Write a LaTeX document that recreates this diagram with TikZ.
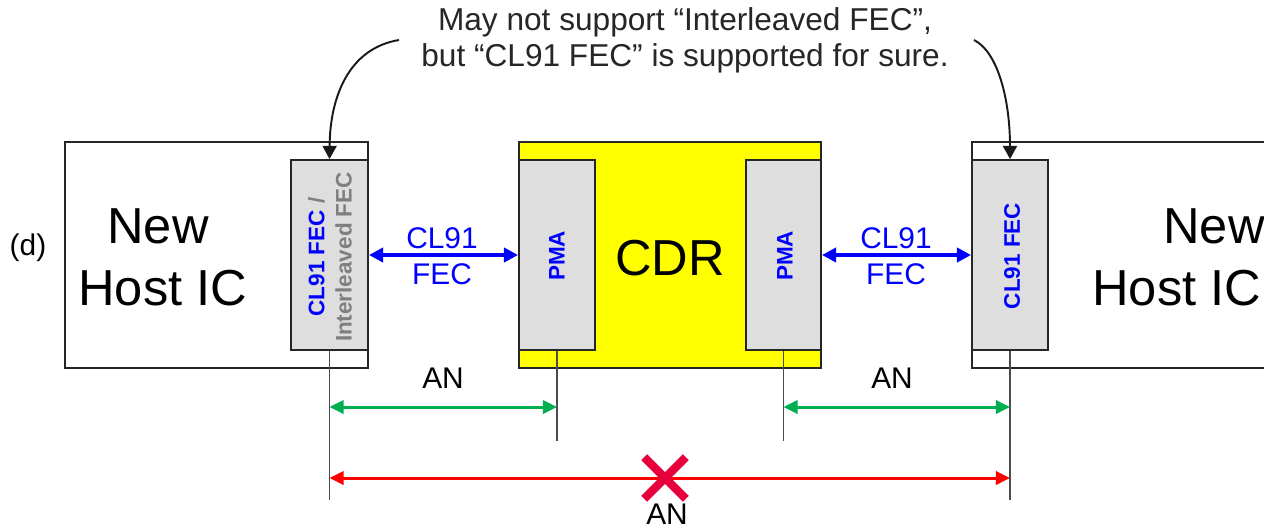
\documentclass[tikz,border=0pt]{standalone}
\usepackage{fontspec}
\setmainfont{Liberation Sans}
\usetikzlibrary{arrows.meta}
\definecolor{fecgray}{HTML}{DEDEDE}
\definecolor{txtgray}{HTML}{7F7F7F}
\definecolor{anblue}{HTML}{0000FF}
\definecolor{angreen}{HTML}{00B050}
\definecolor{anred}{HTML}{FF0000}
\definecolor{xred}{HTML}{E6003C}
\definecolor{cdryellow}{RGB}{255,255,0}
\tikzset{
  box/.style={draw=black!85, line width=1.1pt, rectangle, inner sep=0pt, minimum height=4.52cm},
  fecbox/.style={draw=black!85, line width=1.1pt, rectangle, inner sep=0pt, fill=fecgray, minimum height=3.8cm},
  bigtxt/.style={font=\fontsize{28.8}{34}\selectfont, inner sep=0pt},
  vtxt/.style={font=\fontsize{12.8}{15.5}\selectfont\bfseries, rotate=90, align=center, inner sep=0pt},
  midtxt/.style={font=\fontsize{17}{20.4}\selectfont, inner sep=0pt, align=center},
  bluearr/.style={anblue, line width=2pt, {Triangle[length=8pt,width=8pt]}-{Triangle[length=8pt,width=8pt]}},
  greenarr/.style={angreen, line width=1.7pt, {Triangle[length=8pt,width=7.5pt]}-{Triangle[length=8pt,width=7.5pt]}},
  redarr/.style={anred, line width=1.7pt, {Triangle[length=8pt,width=7.5pt]}-{Triangle[length=8pt,width=7.5pt]}},
  thin/.style={black!70, line width=0.6pt},
  callout/.style={black!90, line width=1.1pt, -{Triangle[length=7.5pt,width=8pt]}},
  xstroke/.style={xred, line width=4.8pt}
}
\begin{document}
\begin{tikzpicture}[x=0.02cm,y=-0.02cm]
\useasboundingbox (0,0) rectangle (1264,529);
\clip (0,0) rectangle (1264,529);
% host boxes and CDR
\node[box, minimum width=6.06cm] (hostL) at (216.5,255) {};
\node[box, minimum width=6.04cm, fill=cdryellow] (cdr) at (670,255) {};
\node[box, minimum width=6.36cm] (hostR) at (1131,255) {};
% inner blocks
\node[fecbox, minimum width=1.54cm] (fecL) at (329.5,255) {};
\node[fecbox, minimum width=1.52cm] (pmaL) at (557,255) {};
\node[fecbox, minimum width=1.5cm] (pmaR) at (783.5,255) {};
\node[fecbox, minimum width=1.52cm] (fecR) at (1010,255) {};
% rotated labels
\node[vtxt] (fecLt) at (330,257) {\textcolor{anblue}{CL91 FEC} \textcolor{txtgray}{/}\\\textcolor{txtgray}{Interleaved FEC}};
\node[vtxt, anblue] (pmaLt) at (557,256) {PMA};
\node[vtxt, anblue] (pmaRt) at (785,256) {PMA};
\node[vtxt, anblue] (fecRt) at (1012,256) {CL91 FEC};
% big texts
\node[font=\fontsize{17}{20}\selectfont, inner sep=0pt] (dlab) at (28,248) {(d)};
\node[bigtxt, anchor=west] (newL) at (107,226) {New};
\node[bigtxt, anchor=west] (hostLt) at (78,288) {Host IC};
\node[bigtxt] (cdrt) at (670,258) {CDR};
\node[bigtxt, anchor=west] (newR) at (1163,226) {New};
\node[bigtxt, anchor=west] (hostRt) at (1092,288) {Host IC};
% blue links
\draw[bluearr] (fecL.east) -- (pmaL.west);
\draw[bluearr] (pmaR.east) -- (fecR.west);
\node[midtxt, anblue] (blL) at (442,256) {CL91\\FEC};
\node[midtxt, anblue] (blR) at (896,256) {CL91\\FEC};
% vertical reference lines
\coordinate (vL) at (329.5,500);
\coordinate (vPL) at (557,441);
\coordinate (vPR) at (783.5,441);
\coordinate (vR) at (1010,500);
\draw[thin] (fecL.south) -- (vL);
\draw[thin] (pmaL.south) -- (vPL);
\draw[thin] (pmaR.south) -- (vPR);
\draw[thin] (fecR.south) -- (vR);
% AN arrows
\coordinate (yG) at (0,407);
\coordinate (yR) at (0,478);
\draw[greenarr] (vL |- yG) -- (vPL |- yG);
\draw[greenarr] (vPR |- yG) -- (vR |- yG);
\draw[redarr] (vL |- yR) -- (vR |- yR);
\node[midtxt] (anL) at (443,378) {AN};
\node[midtxt] (anR) at (892,378) {AN};
\node[midtxt] (anB) at (667,514) {AN};
% red X
\node[minimum size=0.82cm, inner sep=0pt] (xmark) at (665,478) {};
\draw[xstroke] (xmark.north west) -- (xmark.south east);
\draw[xstroke] (xmark.north east) -- (xmark.south west);
% note and callouts
\node[font=\fontsize{18}{20.4}\selectfont, align=center, inner sep=0pt, text=black!85] (note) at (685,40) {May not support “Interleaved FEC”,\\but “CL91 FEC” is supported for sure.};
\coordinate (cL) at (399,40);
\coordinate (cR) at (974,40);
\draw[callout] (cL) .. controls (350,48) and (330,95) .. (fecL.north);
\draw[callout] (cR) .. controls (998,52) and (1010,100) .. (fecR.north);
\end{tikzpicture}
\end{document}
